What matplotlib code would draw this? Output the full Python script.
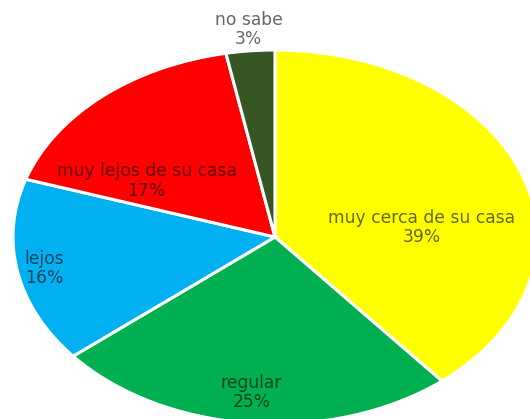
import matplotlib
matplotlib.use("Agg")
import matplotlib.pyplot as plt

# Survey answers: distance to the place
categories = ["muy cerca de su casa", "regular", "lejos", "muy lejos de su casa", "no sabe"]
percentages = [39, 25, 16, 17, 3]
colors = ["#FFFF00", "#00B050", "#00B0F0", "#FF0000", "#375623"]

# Label anchor points (in pie radius units) for each category
label_pos = [(0.56, 0.05), (-0.09, -0.83), (-0.88, -0.17), (-0.49, 0.30), (-0.10, 1.11)]

W, H = 530, 419
fig = plt.figure(figsize=(W / 100, H / 100), dpi=100)
# Axes stretched so the pie is drawn as a wide ellipse
ax = fig.add_axes([13 / W, -5 / H, 524 / W, 374 / H])

wedges, _ = ax.pie(
    percentages,
    colors=colors,
    startangle=90,
    counterclock=False,
    radius=1.0,
    wedgeprops=dict(edgecolor="white", linewidth=2.2),
)
ax.set_aspect("auto")
ax.set_xlim(-1, 1)
ax.set_ylim(-1, 1)
ax.axis("off")

for cat, pct, (x, y) in zip(categories, percentages, label_pos):
    ax.text(x, y, f"{cat}\n{pct}%", ha="center", va="center",
            fontsize=12.3, color="black", alpha=0.6, family="DejaVu Sans",
            linespacing=1.1, clip_on=False)

fig.savefig("out.png", dpi=100)
